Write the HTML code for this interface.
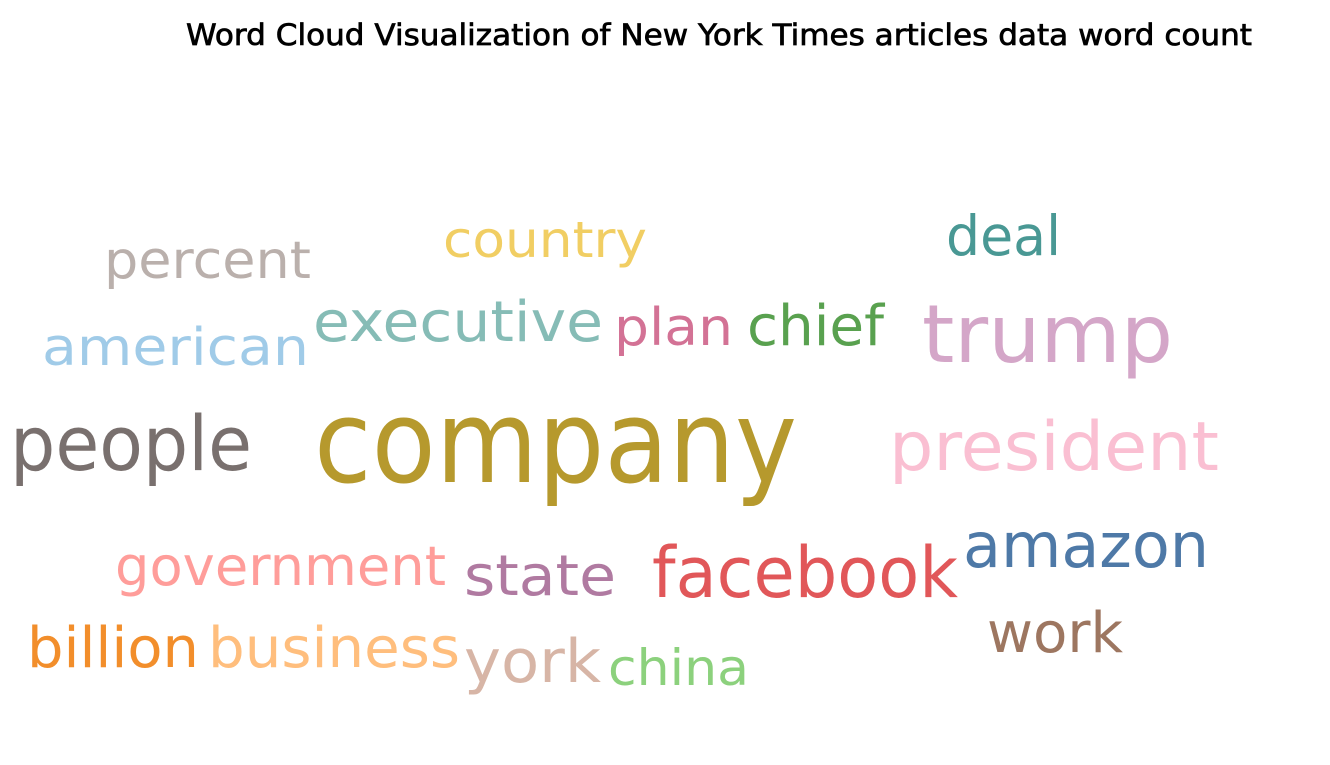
<!DOCTYPE html>
<html>
<head>
<meta charset="utf-8">
<style>
  html, body { margin: 0; padding: 0; background: #ffffff; }
  #wrap { width: 1330px; height: 765px; position: relative; overflow: hidden; }
  svg text { font-family: "DejaVu Sans", "Liberation Sans", sans-serif; }
</style>
</head>
<body>
<div id="wrap">
<svg id="chart" width="1330" height="765" xmlns="http://www.w3.org/2000/svg">
  <text x="186" y="45" font-size="29" textLength="1066" lengthAdjust="spacingAndGlyphs" fill="#000" stroke="#000" stroke-width="0.7">Word Cloud Visualization of New York Times articles data word count</text>
  <g id="words"></g>
</svg>
</div>
<script>
const words = ["percent","country","deal","american","executive","plan","chief","trump","people","company","president","government","state","facebook","amazon","work","billion","business","york","china"];
const counts = [52,50,55,52,56,52,56,80,76,115,68,54,56,70,62,56,56,56,60,50];
const colors = ["#bab0ac","#f1ce63","#499894","#a0cbe8","#86bcb6","#d37295","#59a14f","#d4a6c8","#79706e","#b6992d","#fabfd2","#ff9d9a","#b07aa1","#e15759","#4e79a7","#9d7660","#f28e2b","#ffbe7d","#d7b5a6","#8cd17d"];
// layout (left, right, baseline) from the word-cloud placement
const layoutLeft = [104,443,946,42,313,614,747,922,10,314,889,115,464,652,963,987,27,208,464,608];
const layoutRight = [311,647,1061,309,603,733,884,1173,252,797,1219,446,616,958,1209,1123,199,460,601,749];
const layoutBase = [278,257,255,365,341,345,345,362,470,482,470,585,595,597,567,652,667,667,682,685];

const g = document.getElementById('words');
const NS = 'http://www.w3.org/2000/svg';
words.forEach((w, i) => {
  const t = document.createElementNS(NS, 'text');
  t.setAttribute('x', layoutLeft[i]);
  t.setAttribute('y', layoutBase[i]);
  t.setAttribute('font-size', counts[i]);
  t.setAttribute('fill', colors[i]);
  t.setAttribute('textLength', layoutRight[i] - layoutLeft[i]);
  t.setAttribute('lengthAdjust', 'spacingAndGlyphs');
  
  
  t.textContent = w;
  g.appendChild(t);
});
</script>
</body>
</html>
